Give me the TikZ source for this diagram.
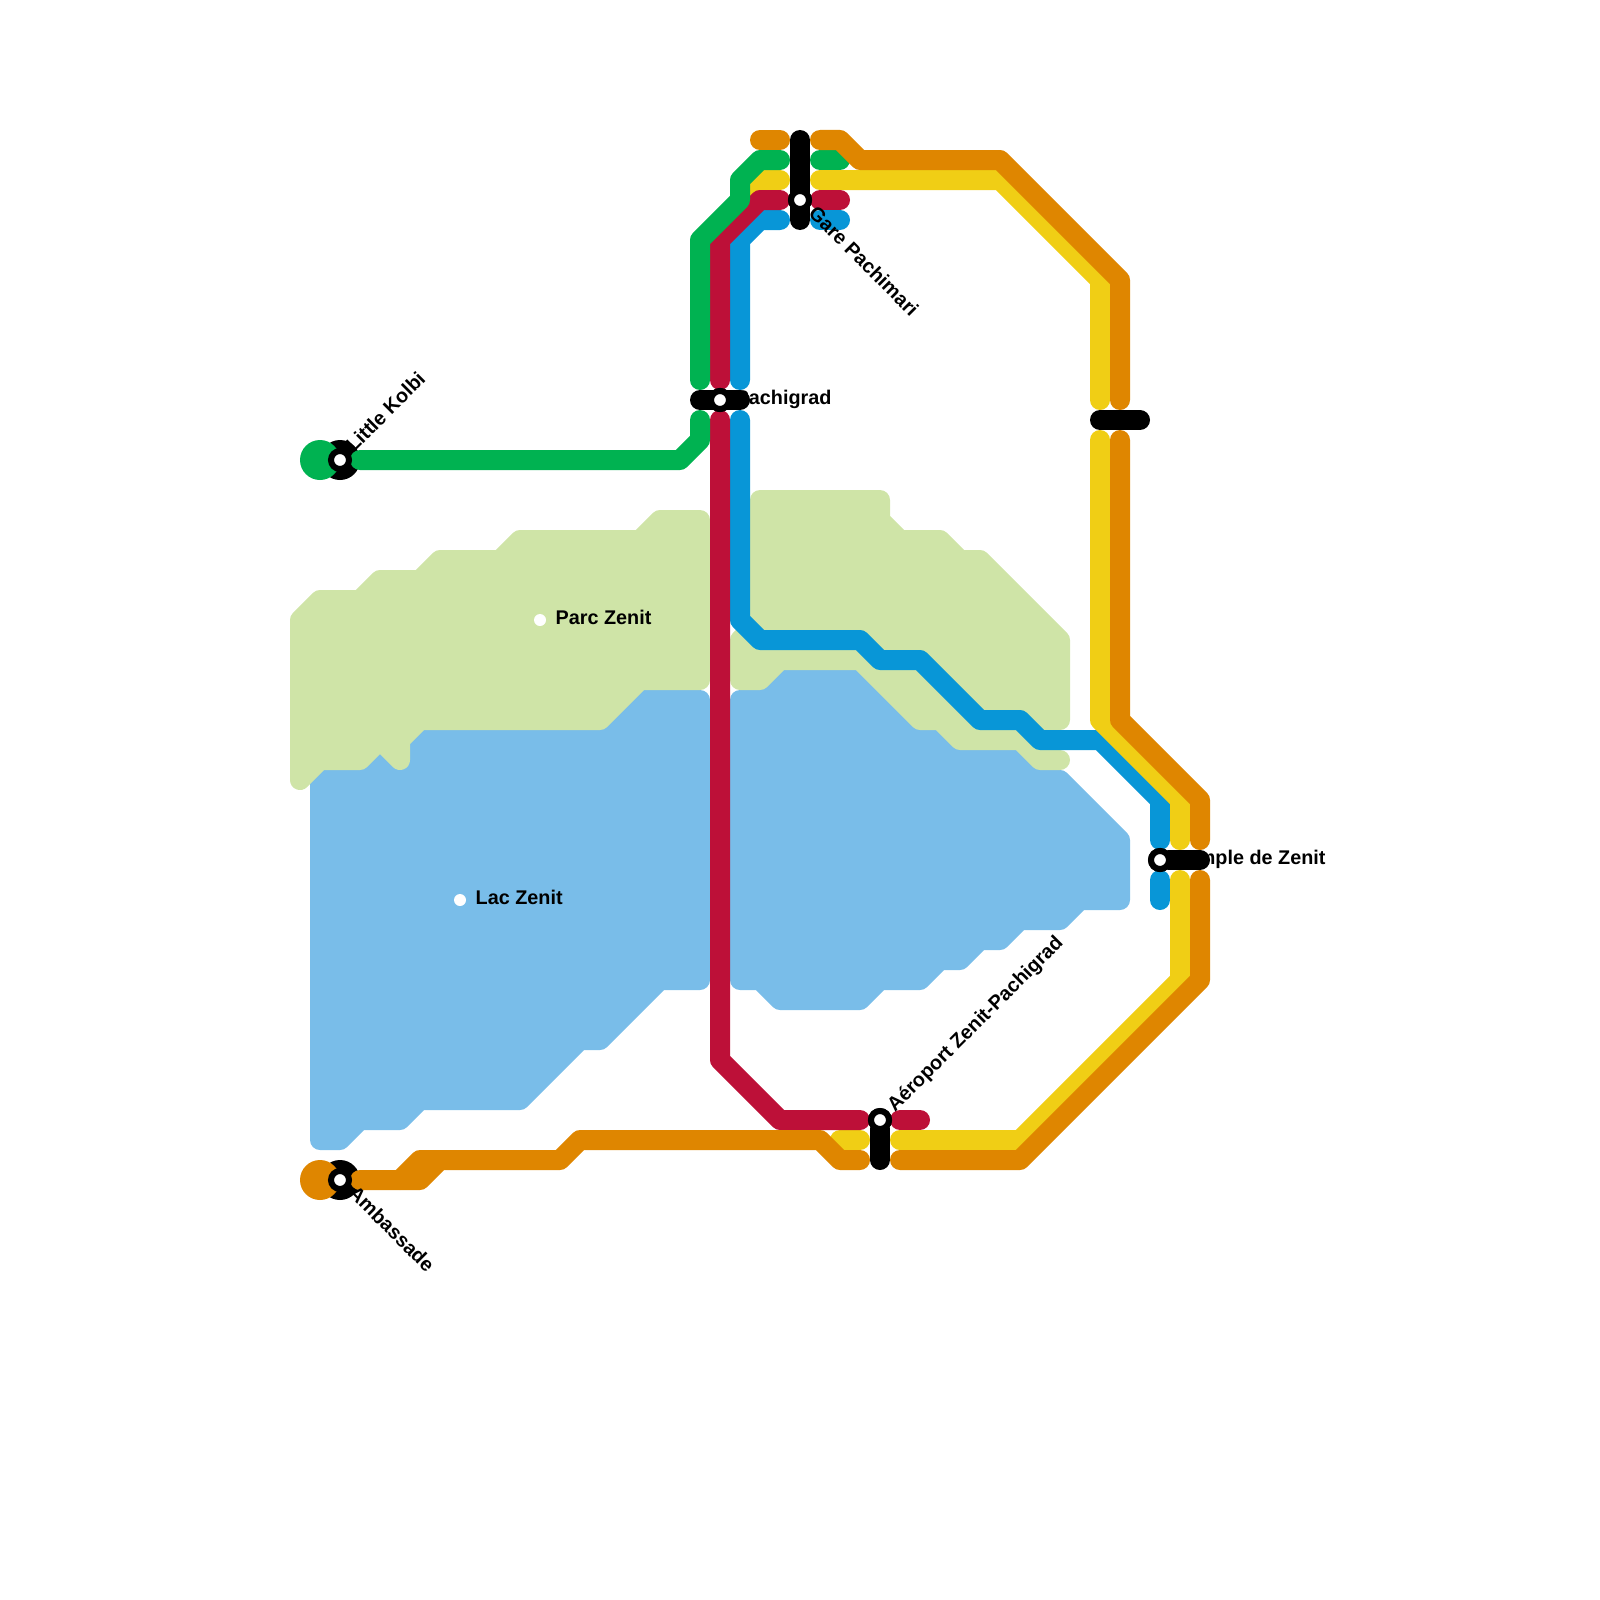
\documentclass[tikz,border=0pt]{standalone}
\usepackage{xcolor}
\usepackage{fontspec}
\setmainfont{Liberation Sans}
\usepackage{tikz}
\usetikzlibrary{shapes.geometric, positioning}
\definecolor{lgreen}{HTML}{00B251}
\definecolor{lorange}{HTML}{DF8600}
\definecolor{lyellow}{HTML}{F0CE15}
\definecolor{lred}{HTML}{BD1038}
\definecolor{lblue}{HTML}{0896D7}
\definecolor{parkc}{HTML}{CFE4A7}
\definecolor{lakec}{HTML}{79BDE9}

\begin{document}
\begin{tikzpicture}[x=1pt, y=-1pt]
    \tikzstyle{line}=[line width=20pt, line cap=round, line join=round]
    \tikzstyle{area}=[line width=20pt, line join=round]
    \tikzstyle{bar}=[line width=20pt, line cap=round, black]
    \tikzstyle{stn}=[circle, fill=white, draw=black, line width=6pt, minimum size=18pt,
                     inner sep=0pt, outer sep=0pt]
    \tikzstyle{dot}=[circle, fill=white, minimum size=12pt, inner sep=0pt, outer sep=0pt]
    \tikzstyle{term}=[circle, minimum size=40pt, inner sep=0pt, outer sep=0pt]
    \tikzstyle{lbl}=[font=\fontsize{19.8}{24}\selectfont\bfseries, inner sep=0pt, anchor=base west]

    \useasboundingbox (0,0) rectangle (1600,1600);

    \draw[area, draw=lakec, fill=lakec] (320,1140) -- (340,1140) -- (360,1120) -- (400,1120)
        -- (420,1100) -- (520,1100) -- (580,1040) -- (600,1040) -- (660,980) -- (700,980)
        -- (700,700) -- (640,700) -- (600,720) -- (340,740) -- (320,780) -- cycle;
    \draw[area, draw=lakec, fill=lakec] (740,700) -- (760,700) -- (780,680) -- (860,680)
        -- (1000,730) -- (1040,780) -- (1060,780) -- (1120,840)
        -- (1120,900) -- (1080,900) -- (1060,920) -- (1020,920) -- (1000,940) -- (980,940)
        -- (960,960) -- (940,960) -- (920,980) -- (880,980) -- (860,1000) -- (780,1000)
        -- (760,980) -- (740,980) -- cycle;
    \draw[area, draw=parkc, fill=parkc] (300,620) -- (320,600) -- (360,600) -- (380,580)
        -- (420,580) -- (440,560) -- (500,560) -- (520,540) -- (640,540) -- (660,520)
        -- (700,520) -- (700,680) -- (640,680) -- (600,720) -- (420,720) -- (400,740)
        -- (400,760) -- (380,740) -- (360,760) -- (320,760) -- (300,780) -- cycle;
    \draw[area, draw=parkc, fill=parkc] (760,500) -- (880,500) -- (880,520) -- (900,540)
        -- (940,540) -- (960,560) -- (980,560) -- (1060,640) -- (1060,720) -- (1040,720)
        -- (1040,760) -- (1060,760) -- (1040,760) -- (1020,740) -- (960,740) -- (940,720)
        -- (920,720) -- (860,660) -- (780,660) -- (760,680) -- (740,680) -- (740,640)
        -- (760,620) -- cycle;

    \node[term, fill=black] (kolbib) at (340,460) {};
    \node[term, fill=black] (ambab) at (340,1180) {};

    \draw[line, lblue] (740,380) -- (740,240) -- (760,220) -- (780,220);
    \draw[line, lblue] (820,220) -- (840,220);
    \draw[line, lblue] (740,420) -- (740,620) -- (760,640) -- (860,640) -- (880,660) -- (920,660)
        -- (980,720) -- (1020,720) -- (1040,740) -- (1100,740) -- (1160,800) -- (1160,840);
    \draw[line, lblue] (1160,880) -- (1160,900);

    \draw[line, lyellow] (780,180) -- (760,180) -- (740,200);
    \draw[line, lyellow] (820,180) -- (1000,180) -- (1100,280) -- (1100,400);
    \draw[line, lyellow] (1100,440) -- (1100,720) -- (1180,800) -- (1180,840);
    \draw[line, lyellow] (1180,880) -- (1180,980) -- (1020,1140) -- (900,1140);
    \draw[line, lyellow] (860,1140) -- (840,1140);

    \draw[line, lred] (720,380) -- (720,240) -- (760,200) -- (780,200);
    \draw[line, lred] (820,200) -- (840,200);
    \draw[line, lred] (720,420) -- (720,1060) -- (780,1120) -- (860,1120);
    \draw[line, lred] (900,1120) -- (920,1120);

    \node[term, fill=lgreen] (kolbit) at (320,460) {};
    \draw[line, lgreen] (360,460) -- (680,460) -- (700,440) -- (700,420);
    \draw[line, lgreen] (700,380) -- (700,240) -- (740,200) -- (740,180) -- (760,160) -- (780,160);
    \draw[line, lgreen] (820,160) -- (840,160);

    \node[term, fill=lorange] (ambat) at (320,1180) {};
    \draw[line, lorange] (360,1180) -- (420,1180) -- (440,1160) -- (560,1160) -- (580,1140)
        -- (820,1140) -- (840,1160) -- (860,1160);
    \draw[line, lorange] (400,1180) -- (420,1160) -- (440,1160);
    \draw[line, lorange] (900,1160) -- (1020,1160) -- (1200,980) -- (1200,880);
    \draw[line, lorange] (1200,840) -- (1200,800) -- (1120,720) -- (1120,440);
    \draw[line, lorange] (1120,400) -- (1120,280) -- (1000,160) -- (860,160) -- (840,140) -- (820,140);
    \draw[line, lorange] (760,140) -- (780,140);

    \node[dot] (parc) at (540,620) {};
    \node[dot] (lac) at (460,900) {};
    \node[lbl] (parcl) at (555.5,624) {Parc Zenit};
    \node[lbl] (lacl) at (475.5,904) {Lac Zenit};
    \node[lbl] (pachl) at (735.5,404) {Pachigrad};
    \node[lbl] (templ) at (1176,864) {Temple de Zenit};
    \node[lbl, rotate=45] (kolbil) at (354,453) {Little Kolbi};
    \node[lbl, rotate=-45] (ambal) at (347.5,1194.5) {Ambassade};
    \node[lbl, rotate=-45] (garel) at (807.5,214.5) {Gare Pachimari};
    \node[lbl, rotate=45] (aerol) at (895,1113) {Aéroport Zenit-Pachigrad};

    \node[stn] (pach) at (720,400) {};
    \node[stn] (gare) at (800,200) {};
    \node[stn] (temp) at (1160,860) {};
    \node[stn] (aero) at (880,1120) {};
    \node[stn] (kolbi) at (340,460) {};
    \node[stn] (amba) at (340,1180) {};
    \coordinate (pacha) at (700,400);
    \coordinate (pachb) at (740,400);
    \coordinate (garea) at (800,140);
    \coordinate (gareb) at (800,220);
    \coordinate (tempb) at (1200,860);
    \coordinate (aerob) at (880,1160);
    \coordinate (midya) at (1100,420);
    \coordinate (midyb) at (1140,420);

    \draw[bar] (pacha) -- (pachb);
    \draw[bar] (garea) -- (gareb);
    \draw[bar] (temp) -- (tempb);
    \draw[bar] (aero) -- (aerob);
    \draw[bar] (midya) -- (midyb);
    \node[stn] at (pach) {};
    \node[stn] at (gare) {};
    \node[stn] at (temp) {};
    \node[stn] at (aero) {};
  \end{tikzpicture}
\end{document}
